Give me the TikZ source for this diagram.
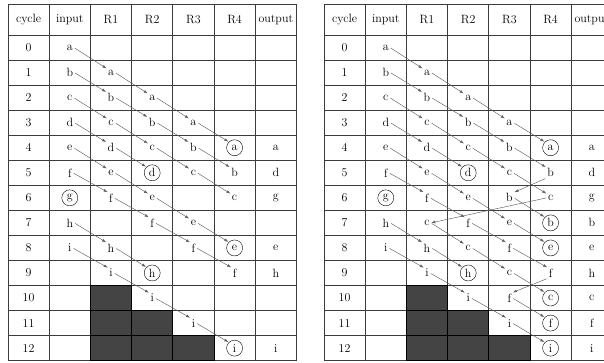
\documentclass[tikz,border=0pt]{standalone}
\usepackage{tikz}
\usetikzlibrary{arrows.meta}
\definecolor{gridline}{HTML}{3C3C3C}
\definecolor{flowgray}{HTML}{5E5E5E}
\definecolor{blockfill}{HTML}{444444}
\tikzset{every node/.append style={font=\fontsize{12}{14}\selectfont}}
\tikzset{
  val/.style={inner sep=1pt},
  head/.style={inner sep=1pt},
  done/.style={circle,draw=black,inner sep=0pt,minimum size=16pt},
  flow/.style={->,flowgray,line width=0.45pt,shorten <=1pt,shorten >=0.5pt},
  blocked/.style={fill=blockfill,draw=black,line width=1pt},
}
\newcommand{\colw}{41.2}
\newcommand{\rowh}{25.05}
% grid, header and cycle numbers of one table
\newcommand{\pipegrid}[1]{%
  \foreach \c in {0,...,7}
    \draw[gridline,line width=0.8pt] ({\c*\colw},4) -- ({\c*\colw},{35+13*\rowh});
  \foreach \y in {4,35}
    \draw[gridline,line width=0.8pt] (0,\y) -- ({7*\colw},\y);
  \foreach \r in {1,...,13}
    \draw[gridline,line width=0.8pt] (0,{35+\r*\rowh}) -- ({7*\colw},{35+\r*\rowh});
  \foreach \r/\c in {10/2,11/2,11/3,12/2,12/3,12/4}
    \draw[blocked] ({\c*\colw},{35+\r*\rowh}) rectangle ++(\colw,\rowh);
  \foreach \h [count=\c from 0] in {cycle,input,R1,R2,R3,R4,output}
    \node[head] (#1-h-\c) at ({(\c+0.5)*\colw},19.5) {\h};
  \foreach \r in {0,...,12}
    \node[val] (#1-\r-0) at ({0.5*\colw},{35+(\r+0.5)*\rowh}) {\r};
}

\begin{document}
\begin{tikzpicture}[x=1pt,y=-1pt,>={Latex[length=4pt,width=2.8pt]}]
  \useasboundingbox (0,0) rectangle (604,362);
  \clip (0,0) rectangle (604,362);

  % left table: plain pipeline
  \begin{scope}[xshift=8pt]
    \pipegrid{A}
    \foreach \r/\c/\t in {0/1/a,1/1/b,1/2/a,2/1/c,2/2/b,2/3/a,3/1/d,3/2/c,3/3/b,3/4/a,
        4/1/e,4/2/d,4/3/c,4/4/b,4/6/a,5/1/f,5/2/e,5/4/c,5/5/b,5/6/d,
        6/2/f,6/3/e,6/5/c,6/6/g,7/1/h,7/3/f,7/4/e,8/1/i,8/2/h,8/4/f,8/6/e,
        9/2/i,9/5/f,9/6/h,10/3/i,11/4/i,12/6/i}
      \node[val] (A-\r-\c) at ({(\c+0.5)*\colw},{35+(\r+0.5)*\rowh}) {\t};
    \foreach \r/\c/\t in {4/5/a,5/3/d,6/1/g,8/5/e,9/3/h,12/5/i}
      \node[done] (A-\r-\c) at ({(\c+0.5)*\colw},{35+(\r+0.5)*\rowh}) {\t};
  \end{scope}
  \foreach \r/\c in {0/1,1/2,2/3,3/4,1/1,2/2,3/3,4/4,2/1,3/2,4/3,5/4,3/1,4/2,
      4/1,5/2,6/3,7/4,5/1,6/2,7/3,8/4,7/1,8/2,8/1,9/2,10/3,11/4} {
    \pgfmathtruncatemacro\nr{\r+1}
    \pgfmathtruncatemacro\nc{\c+1}
    \draw[flow] (A-\r-\c.east) -- (A-\nr-\nc.north west);
  }

  % right table: with re-issued values
  \begin{scope}[xshift=324pt]
    \pipegrid{B}
    \foreach \r/\c/\t in {0/1/a,1/1/b,1/2/a,2/1/c,2/2/b,2/3/a,3/1/d,3/2/c,3/3/b,3/4/a,
        4/1/e,4/2/d,4/3/c,4/4/b,4/6/a,5/1/f,5/2/e,5/4/c,5/5/b,5/6/d,
        6/2/f,6/3/e,6/4/b,6/5/c,6/6/g,7/1/h,7/2/c,7/3/f,7/4/e,7/6/b,
        8/1/i,8/2/h,8/3/c,8/4/f,8/6/e,9/2/i,9/4/c,9/5/f,9/6/h,
        10/3/i,10/4/f,10/6/c,11/4/i,11/6/f,12/6/i}
      \node[val] (B-\r-\c) at ({(\c+0.5)*\colw},{35+(\r+0.5)*\rowh}) {\t};
    \foreach \r/\c/\t in {4/5/a,5/3/d,6/1/g,7/5/b,8/5/e,9/3/h,10/5/c,11/5/f,12/5/i}
      \node[done] (B-\r-\c) at ({(\c+0.5)*\colw},{35+(\r+0.5)*\rowh}) {\t};
  \end{scope}
  \foreach \r/\c in {0/1,1/2,2/3,3/4,1/1,2/2,3/3,4/4,6/4,2/1,3/2,4/3,5/4,7/2,8/3,9/4,
      3/1,4/2,4/1,5/2,6/3,7/4,5/1,6/2,7/3,8/4,10/4,7/1,8/2,8/1,9/2,10/3,11/4} {
    \pgfmathtruncatemacro\nr{\r+1}
    \pgfmathtruncatemacro\nc{\c+1}
    \draw[flow] (B-\r-\c.east) -- (B-\nr-\nc.north west);
  }
  \draw[flow] (B-5-5.south west) -- (B-6-4.north east);
  \draw[flow] (B-6-5.west) -- (B-7-2.east);
  \draw[flow] (B-9-5.south west) -- (B-10-4.north east);
\end{tikzpicture}
\end{document}
